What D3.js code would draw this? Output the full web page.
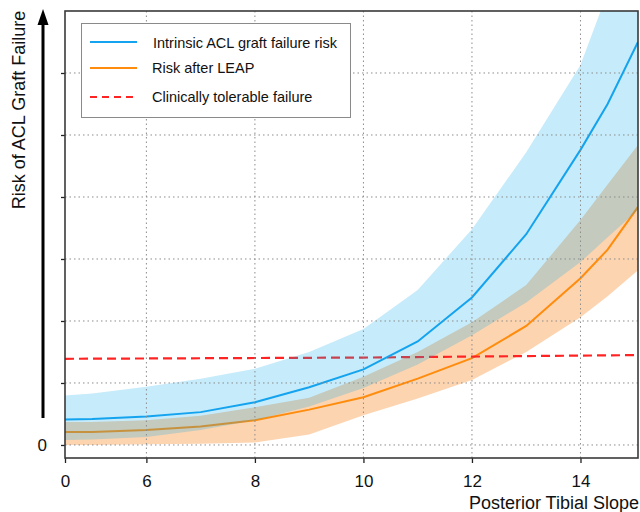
<!DOCTYPE html>
<html>
<head>
<meta charset="utf-8">
<script src="https://cdn.jsdelivr.net/npm/d3@7"></script>
<style>
  html, body { margin: 0; padding: 0; background: #fff; }
  svg { display: block; font-family: "Liberation Sans", Arial, sans-serif; }
</style>
</head>
<body>
<svg id="chart" width="640" height="512"></svg>
<script>
// ---- data ----
const slope        = [4.5, 5, 6, 7, 8, 9, 10, 11, 12, 13, 14, 14.5, 15.06];
const intrinsicMid = [0.41, 0.42, 0.46, 0.53, 0.69, 0.93, 1.22, 1.67, 2.38, 3.40, 4.76, 5.50, 6.50];
const intrinsicHi  = [0.80, 0.83, 0.94, 1.07, 1.23, 1.50, 1.87, 2.50, 3.48, 4.72, 6.13, 7.30, 8.60];
const intrinsicLo  = [0.08, 0.09, 0.13, 0.24, 0.40, 0.62, 0.92, 1.30, 1.77, 2.30, 2.95, 3.35, 3.79];
const leapMid      = [0.21, 0.21, 0.24, 0.30, 0.40, 0.57, 0.77, 1.07, 1.40, 1.92, 2.69, 3.15, 3.84];
const leapHi       = [0.37, 0.37, 0.40, 0.47, 0.61, 0.76, 1.10, 1.50, 1.98, 2.58, 3.63, 4.20, 4.84];
const leapLo       = [0.00, 0.00, 0.01, 0.02, 0.04, 0.17, 0.48, 0.75, 1.05, 1.50, 2.06, 2.40, 2.82];
const tolerableX   = [4.5, 10, 15.06];
const tolerableY   = [1.39, 1.41, 1.45];
const xTickValues  = [4.5, 6, 8, 10, 12, 14];
const xTickLabels  = ["0", "6", "8", "10", "12", "14"];
const yTickValues  = [0, 1, 2, 3, 4, 5, 6];
const yTickLabels  = ["0", "", "", "", "", "", ""];
const legendLabels = ["Intrinsic ACL graft failure risk", "Risk after LEAP", "Clinically tolerable failure"];
const xTitle = "Posterior Tibial Slope";
const yTitle = "Risk of ACL Graft Failure";

// ---- layout ----
const svg = d3.select("#chart");
const L = 65, R = 638, T = 11, B = 458;
const x = d3.scaleLinear().domain([4.5, 15.06]).range([L, R]);
const y = d3.scaleLinear().domain([-0.21, 7]).range([B, T]);

const BLUE = "#14a3ee", ORANGE = "#ff8c0c", RED = "#ff2424";

svg.append("defs").append("clipPath").attr("id", "plotclip")
  .append("rect").attr("x", L).attr("y", T).attr("width", R - L).attr("height", B - T);

const plot = svg.append("g").attr("clip-path", "url(#plotclip)");

const pts = (ys) => slope.map((s, i) => [s, ys[i]]);
const band = (lo, hi) => slope.map((s, i) => ({x: s, lo: lo[i], hi: hi[i]}));
const area = d3.area().x(d => x(d.x)).y0(d => y(d.lo)).y1(d => y(d.hi));
const line = d3.line().x(d => x(d[0])).y(d => y(d[1]));

// orange band (opaque)
plot.append("path").datum(band(leapLo, leapHi))
  .attr("d", area).attr("fill", "#fdd4b0");
// orange line
plot.append("path").datum(pts(leapMid))
  .attr("d", line).attr("fill", "none").attr("stroke", ORANGE).attr("stroke-width", 2);
// red dashed tolerable line
plot.append("path").datum(tolerableX.map((v, i) => [v, tolerableY[i]]))
  .attr("d", line).attr("fill", "none").attr("stroke", RED)
  .attr("stroke-width", 2.2).attr("stroke-dasharray", "9,5");
// blue band (translucent)
plot.append("path").datum(band(intrinsicLo, intrinsicHi))
  .attr("d", area).attr("fill", "rgb(10,170,235)").attr("fill-opacity", 0.23);

// grid
const grid = svg.append("g");
grid.selectAll("line.gy").data(yTickValues).join("line")
  .attr("x1", L).attr("x2", R).attr("y1", d => y(d)).attr("y2", d => y(d))
  .attr("stroke", "#8c8c8c").attr("stroke-width", 1).attr("stroke-dasharray", "1.5,3");
grid.selectAll("line.gx").data(xTickValues.slice(1)).join("line")
  .attr("y1", T).attr("y2", B).attr("x1", d => x(d)).attr("x2", d => x(d))
  .attr("stroke", "#8c8c8c").attr("stroke-width", 1).attr("stroke-dasharray", "1.5,3");

// blue line on top
plot.append("path").datum(pts(intrinsicMid))
  .attr("d", line).attr("fill", "none").attr("stroke", BLUE).attr("stroke-width", 2);

// axes
const xAxis = d3.axisBottom(x).tickValues(xTickValues)
  .tickFormat((d, i) => xTickLabels[i]).tickSize(5).tickPadding(12);
const gx = svg.append("g").attr("transform", `translate(0,${B})`).call(xAxis);
gx.select(".domain").remove();
gx.selectAll("text").attr("font-size", 17).attr("fill", "#111").attr("font-family", "Liberation Sans, Arial, sans-serif");
gx.selectAll("line").attr("stroke", "#222").attr("stroke-width", 1.3);

const yAxis = d3.axisLeft(y).tickValues(yTickValues)
  .tickFormat((d, i) => yTickLabels[i]).tickSize(4).tickPadding(14);
const gy = svg.append("g").attr("transform", `translate(${L},0)`).call(yAxis);
gy.select(".domain").remove();
gy.selectAll("text").attr("font-size", 17).attr("fill", "#111").attr("font-family", "Liberation Sans, Arial, sans-serif");
gy.selectAll("line").attr("stroke", "#222").attr("stroke-width", 1.3);

// frame
svg.append("rect").attr("x", L).attr("y", T).attr("width", R - L).attr("height", B - T)
  .attr("fill", "none").attr("stroke", "#3a3a3a").attr("stroke-width", 1.6);

// y axis arrow
svg.append("line").attr("x1", 43).attr("x2", 43).attr("y1", 418).attr("y2", 22)
  .attr("stroke", "#000").attr("stroke-width", 3);
svg.append("path").attr("d", "M43,9 L37.5,25 L48.5,25 Z").attr("fill", "#000");

// titles
svg.append("text").attr("transform", "translate(25,110) rotate(-90)")
  .attr("text-anchor", "middle").attr("font-size", 18).attr("fill", "#111").text(yTitle);
svg.append("text").attr("x", 639).attr("y", 509).attr("text-anchor", "end")
  .attr("font-size", 18).attr("fill", "#111").text(xTitle);

// legend
const lg = svg.append("g");
lg.append("rect").attr("x", 81.5).attr("y", 23.5).attr("width", 269).attr("height", 94)
  .attr("fill", "#fff").attr("stroke", "#8a8a8a").attr("stroke-width", 1);
const legendItems = [
  {label: legendLabels[0], color: BLUE, dash: null, ly: 42, ty: 47.5, tx: 153},
  {label: legendLabels[1], color: ORANGE, dash: null, ly: 68, ty: 73, tx: 152},
  {label: legendLabels[2], color: RED, dash: "7,5", ly: 97, ty: 102, tx: 152}
];
legendItems.forEach(it => {
  lg.append("line").attr("x1", 90).attr("x2", it.dash ? 136 : 137).attr("y1", it.ly).attr("y2", it.ly)
    .attr("stroke", it.color).attr("stroke-width", 2.2)
    .attr("stroke-dasharray", it.dash);
  lg.append("text").attr("x", it.tx).attr("y", it.ty).attr("font-size", 14.5)
    .attr("fill", "#111").text(it.label);
});
</script>
</body>
</html>
